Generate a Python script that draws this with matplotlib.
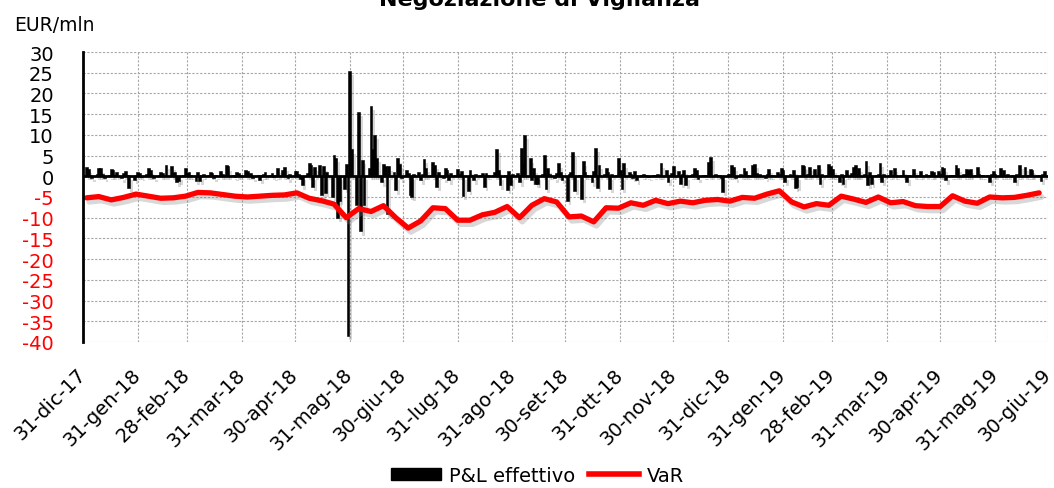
import matplotlib
matplotlib.use('Agg')
import matplotlib.pyplot as plt
import matplotlib.patheffects as pe
import matplotlib.transforms as mtransforms
from matplotlib.patches import Patch
from matplotlib.lines import Line2D
import pandas as pd

# daily P&L (EUR mln), one list per month, business days only
months = ['2018-01', '2018-02', '2018-03', '2018-04', '2018-05', '2018-06',
          '2018-07', '2018-08', '2018-09', '2018-10', '2018-11', '2018-12',
          '2019-01', '2019-02', '2019-03', '2019-04', '2019-05', '2019-06']
pnl_by_month = [
    [2.3, 1.8, 0.4, -0.3, 0.6, 2.0, 1.9, 0.5, -0.4, 0.3, 1.7, 1.5, 0.2, 1.1, -0.5, 0.9, 1.2, 0.3, -2.8, -0.9, 0.4, 1.0],
    [0.8, -0.2, 0.5, 1.9, 1.6, 0.3, -0.4, 0.2, 1.0, 0.9, 0.1, 2.8, 2.5, 0.9, 1.0, -1.5, -1.2, 0.3, 2.0, 0.7],
    [1.0, 0.4, -1.2, 1.0, -1.2, 0.3, 0.5, 0.2, 1.0, 0.8, -0.3, 0.4, 1.2, 0.6, 0.2, 2.8, 2.4, 0.3, -0.2, 1.0, 0.9, 0.4],
    [1.5, 1.3, 0.2, 0.8, -0.3, 0.4, -0.8, 0.3, 0.5, 1.0, 0.2, 0.8, -0.2, 0.4, 1.9, 1.6, 2.3, 0.4, -0.5, 0.6, 1.2],
    [1.2, 0.6, -0.6, -2.2, 0.8, 3.1, 2.8, -2.6, 2.2, 2.8, -4.6, 2.4, -4.0, 1.0, -4.9, 5.1, 4.5, -10.0, -6.0, -3.0, 3.0, -38.5, 25.5],
    [6.5, -7.0, 15.6, -13.3, 4.0, -7.0, 2.0, 17.0, 6.5, 9.9, 4.5, -1.5, 2.9, 2.4, -9.0, 2.4, 1.0, -3.4, 4.3, 3.0, -0.5],
    [1.5, 0.8, -4.6, -5.0, 0.5, 1.0, -1.0, 0.6, 4.1, 2.0, 0.4, 3.5, 2.8, -2.6, 1.0, -0.5, 2.0, 1.5, -1.0, 0.9, 0.3, 1.7],
    [0.5, 1.2, -4.8, -3.5, 1.5, 0.3, -1.0, 0.6, 0.2, 0.8, -2.6, 0.8, 0.4, 0.2, 1.0, 6.7, 1.5, -2.2, 0.4, -3.2, 1.2, -2.0, 0.5],
    [0.8, -1.5, 6.9, 3.0, 9.9, 4.3, -1.0, 1.9, -1.8, -1.8, 0.5, 5.2, -3.0, 1.9, 0.6, -0.5, 0.8, 3.1, 1.0, -0.8],
    [-6.0, 0.5, 1.0, 5.9, -3.6, 0.4, -5.4, 3.6, 1.0, 0.3, -1.5, 1.2, 6.9, -2.8, 2.7, 0.5, 1.9, 1.0, -3.0, 0.6, 0.3, 4.3, 1.5],
    [-3.0, 3.1, 1.0, 0.5, -0.4, 1.2, -1.0, 0.3, 0.6, 0.2, 0.4, -0.2, 0.3, 0.2, 0.5, 0.3, 3.1, 1.5, -1.3, 0.4, 0.8, 2.5],
    [1.2, -1.8, 0.5, 1.5, -2.0, 0.3, 0.6, 1.9, 1.4, -0.6, 0.3, 0.4, 0.2, 3.5, 4.7, 0.5, 0.3, 0.2, -0.4, -3.8, 0.6],
    [0.5, 2.8, 2.3, -0.5, 0.6, 0.3, 1.9, 1.2, 0.4, 2.8, 3.0, 0.8, 0.2, 0.5, -0.3, 0.6, 1.8, 0.4, 0.2, 1.0, 0.5, 2.0, 1.4],
    [-1.4, 0.5, 0.3, 1.5, -2.8, -2.5, 2.7, 2.5, 0.4, 0.6, 2.3, 1.8, 0.3, 2.7, -1.8, 0.5, 0.4, 3.0, 2.6, 1.8],
    [0.4, -1.4, 0.6, -1.8, 0.3, 1.5, 0.8, 2.3, 2.8, 0.5, 2.0, 0.6, 3.6, -2.0, 1.0, -1.8, 0.4, 0.5, 3.3, -1.4, 0.6],
    [0.3, 1.5, 0.2, 2.0, 0.4, 0.2, 1.5, 0.3, -1.4, 0.2, 1.8, 0.3, 0.1, 0.4, 1.2, 0.6, 0.2, 0.4, 1.2, 1.0, 1.2, 0.5],
    [2.3, 2.0, -1.0, 0.3, 0.4, 0.2, 2.7, 2.0, 0.5, 0.3, 1.7, 1.5, 1.8, 0.2, 2.3, 0.6, 0.3, 0.4, 0.2, -1.4, 0.5, 1.2, 0.6],
    [2.0, 0.4, 1.5, 0.3, 0.6, 0.2, -1.4, 0.5, 0.3, 2.7, 2.2, 0.4, 0.3, 1.8, 1.6, 0.4, 0.2, -1.2, 0.6, 1.3],
]

# VaR (EUR mln), weekly readings starting Tue 2 Jan 2018
var_weekly = [-5.2, -4.9, -5.7, -5.1, -4.3, -4.8, -5.3, -5.2, -4.8, -3.9,
              -4.0, -4.4, -4.8, -5.0, -4.8, -4.6, -4.5, -4.0, -5.3, -5.9,
              -6.7, -10.0, -7.8, -8.5, -7.1, -10.0, -12.5, -10.8, -7.6, -7.8,
              -10.6, -10.6, -9.3, -8.7, -7.3, -10.0, -7.0, -5.4, -6.2, -9.8,
              -9.6, -11.0, -7.6, -7.7, -6.4, -7.0, -5.8, -6.6, -6.0, -6.4,
              -5.8, -5.6, -6.0, -5.1, -5.3, -4.3, -3.5, -6.2, -7.4, -6.6,
              -7.0, -4.8, -5.5, -6.3, -5.0, -6.4, -6.1, -7.1, -7.3, -7.3,
              -4.7, -6.0, -6.5, -5.0, -5.2, -5.1, -4.6, -4.0]

tick_dates = ['2017-12-31', '2018-01-31', '2018-02-28', '2018-03-31', '2018-04-30',
              '2018-05-31', '2018-06-30', '2018-07-31', '2018-08-31', '2018-09-30',
              '2018-10-31', '2018-11-30', '2018-12-31', '2019-01-31', '2019-02-28',
              '2019-03-31', '2019-04-30', '2019-05-31', '2019-06-30']
tick_labels = ['31-dic-17', '31-gen-18', '28-feb-18', '31-mar-18', '30-apr-18',
               '31-mag-18', '30-giu-18', '31-lug-18', '31-ago-18', '30-set-18',
               '31-ott-18', '30-nov-18', '31-dic-18', '31-gen-19', '28-feb-19',
               '31-mar-19', '30-apr-19', '31-mag-19', '30-giu-19']
y_ticks = list(range(-40, 31, 5))

plt.rcParams['font.family'] = ['DejaVu Sans']

dates, pnl = [], []
for m, vals in zip(months, pnl_by_month):
    start = pd.Timestamp(m + '-01')
    days = pd.bdate_range(start, start + pd.offsets.MonthEnd(0))
    days = days[days >= pd.Timestamp('2018-01-02')]
    n = min(len(days), len(vals))
    dates.extend(days[:n])
    pnl.extend(vals[:n])

var_dates = pd.date_range('2018-01-02', periods=len(var_weekly), freq='W-TUE')

fig = plt.figure(figsize=(10.54, 4.89), dpi=100)
ax = fig.add_axes([0.0787, 0.2986, 0.9156, 0.593])

bar_shadow = [pe.SimplePatchShadow(offset=(2, -3), shadow_rgbFace='gray', alpha=0.3), pe.Normal()]
ax.bar(dates, pnl, width=1.6, color='#000000', edgecolor='#000000', linewidth=0.4,
       zorder=3, path_effects=bar_shadow)
ax.axhline(0, color='black', linewidth=2, zorder=4)
ax.plot(var_dates, var_weekly, color='#ff0000', linewidth=3.8, zorder=5,
        solid_joinstyle='round', solid_capstyle='round',
        path_effects=[pe.SimpleLineShadow(offset=(2, -3), shadow_color='gray', alpha=0.3), pe.Normal()])

ax.set_xlim(pd.Timestamp('2017-12-31'), pd.Timestamp('2019-06-30'))
ax.set_ylim(-40, 30)
ax.set_yticks(y_ticks)
ax.set_yticklabels([str(v) for v in y_ticks], fontsize=14)
for lab, v in zip(ax.get_yticklabels(), y_ticks):
    lab.set_color('#ff0000' if v < 0 else 'black')

ax.set_xticks(pd.to_datetime(tick_dates))
ax.set_xticklabels(tick_labels, fontsize=14, rotation=45, ha='right', va='center',
                   rotation_mode='anchor')
shift = mtransforms.ScaledTranslation(-1 / 72, 0, fig.dpi_scale_trans)
for lab in ax.get_xticklabels():
    lab.set_transform(lab.get_transform() + shift)
ax.tick_params(axis='both', length=0)
ax.tick_params(axis='x', pad=21)
ax.tick_params(axis='y', pad=21)

ax.grid(True, color='#a6a6a6', linestyle=(0, (2, 1.5)), linewidth=0.8, zorder=0)
ax.set_axisbelow(True)
for side in ['top', 'right', 'bottom']:
    ax.spines[side].set_visible(False)
ax.spines['left'].set_linewidth(2)
ax.spines['left'].set_zorder(6)

fig.text(0.512, 0.988, 'Negoziazione di Vigilanza', ha='center', va='baseline',
         fontsize=16, fontweight='bold')
fig.text(0.013, 0.948, 'EUR/mln', ha='left', va='center', fontsize=13.5)

handles = [Patch(facecolor='black', edgecolor='black'),
           Line2D([0], [0], color='#ff0000', linewidth=4)]
fig.legend(handles, ['P&L effettivo', 'VaR'], loc='center', bbox_to_anchor=(0.51, 0.026),
           ncol=2, frameon=False, fontsize=14, handlelength=2.6, handleheight=0.6,
           handletextpad=0.4, columnspacing=0.7, borderpad=0.2)

fig.savefig('out.png', dpi=100)
plt.close(fig)
